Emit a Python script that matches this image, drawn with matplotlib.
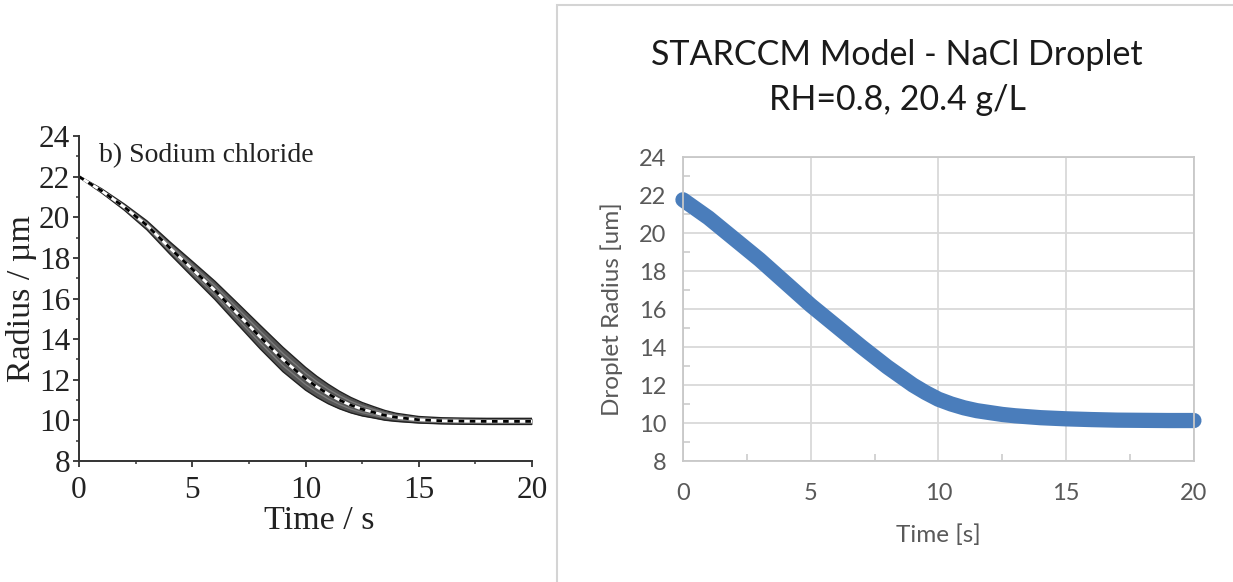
import numpy as np
import matplotlib.pyplot as plt
from matplotlib.patches import Rectangle
from matplotlib.ticker import MultipleLocator

# left panel: published model (band of runs + dashed mean)
t_left = [0, 1, 2, 3, 4, 5, 6, 7, 8, 9, 10, 10.5, 11, 11.5, 12, 12.5, 13, 13.5, 14,
          15, 16, 17, 18, 19, 20]
r_left = [22.0, 21.3, 20.5, 19.6, 18.5, 17.45, 16.4, 15.25, 14.1, 13.0, 12.05, 11.65,
          11.3, 11.0, 10.75, 10.55, 10.4, 10.25, 10.15, 10.03, 9.98, 9.96, 9.95, 9.95, 9.95]
band_half = [0.03, 0.1, 0.15, 0.22, 0.3, 0.38, 0.45, 0.52, 0.58, 0.6, 0.56, 0.52, 0.48,
             0.43, 0.38, 0.33, 0.28, 0.24, 0.2, 0.16, 0.15, 0.15, 0.15, 0.15, 0.15]

# right panel: STARCCM model
t_right = [0, 1, 2, 3, 4, 5, 6, 7, 8, 9, 9.5, 10, 10.5, 11, 11.5, 12, 12.5, 13, 14,
           15, 16, 17, 18, 19, 20]
r_right = [21.75, 20.8, 19.7, 18.6, 17.4, 16.2, 15.1, 14.0, 12.95, 12.0, 11.6, 11.25,
           11.0, 10.8, 10.65, 10.55, 10.45, 10.38, 10.28, 10.22, 10.18, 10.15, 10.14,
           10.13, 10.13]

fig = plt.figure(figsize=(12.33, 5.82), dpi=100)

# ---- left plot ----
ax1 = fig.add_axes([0.0641, 0.2079, 0.3674, 0.5584])
serif = "Liberation Serif"
t = np.array(t_left)
r = np.array(r_left)
h = np.array(band_half)
ax1.fill_between(t, r - h, r + h, color="#555555", lw=0)
for f, c in [(1.0, "#222222"), (-1.0, "#222222"), (0.5, "#7a7a7a"), (-0.5, "#7a7a7a")]:
    ax1.plot(t, r + f * h, color=c, lw=1.0)
ax1.plot(t, r, color="white", lw=2.0)
ax1.plot(t, r, color="black", lw=2.0, dashes=(2, 2))

ax1.set_xlim(0, 20)
ax1.set_ylim(8, 24)
ax1.xaxis.set_major_locator(MultipleLocator(5))
ax1.xaxis.set_minor_locator(MultipleLocator(2.5))
ax1.yaxis.set_major_locator(MultipleLocator(2))
ax1.yaxis.set_minor_locator(MultipleLocator(1))
for side in ["top", "right"]:
    ax1.spines[side].set_visible(False)
for side in ["left", "bottom"]:
    ax1.spines[side].set_linewidth(1.4)
    ax1.spines[side].set_color("#333333")
ax1.tick_params(which="major", direction="out", length=4.5, width=1.3, color="#333333",
                labelsize=22.5, labelcolor="#222222", pad=2)
ax1.tick_params(axis="x", which="major", pad=6)
ax1.tick_params(which="minor", direction="out", length=2.5, width=1.1, color="#333333")
for lab in ax1.get_xticklabels() + ax1.get_yticklabels():
    lab.set_family(serif)
ax1.set_xlabel("Time / s", fontsize=24.5, family=serif, color="#222222")
ax1.xaxis.set_label_coords(0.53, -0.185)
ax1.xaxis.label.set_va("center")
ax1.set_ylabel("Radius / µm", fontsize=24.5, family=serif, color="#222222")
ax1.yaxis.set_label_coords(-0.126, 0.5)
ax1.yaxis.label.set_va("center")
ax1.text(0.045, 0.94, "b) Sodium chloride", transform=ax1.transAxes, fontsize=20,
         family=serif, color="#222222", va="center", ha="left")

# ---- right plot (Excel style) ----
fig.patches.append(Rectangle((0.4517, -0.01), 0.56, 1.0014, transform=fig.transFigure,
                             fill=False, edgecolor="#d4d4d4", lw=1.5))
sans = "Lato"
ax2 = fig.add_axes([0.5539, 0.2079, 0.4144, 0.5223])
ax2.plot(t_right, r_right, color="#4a7dbb", lw=11, solid_capstyle="round",
         solid_joinstyle="round", clip_on=False)
ax2.set_xlim(0, 20)
ax2.set_ylim(8, 24)
ax2.xaxis.set_major_locator(MultipleLocator(5))
ax2.xaxis.set_minor_locator(MultipleLocator(2.5))
ax2.yaxis.set_major_locator(MultipleLocator(2))
ax2.yaxis.set_minor_locator(MultipleLocator(1))
ax2.grid(True, which="major", color="#d9d9d9", lw=1.3)
ax2.set_axisbelow(True)
for side in ax2.spines:
    ax2.spines[side].set_color("#c8c8c8")
    ax2.spines[side].set_linewidth(1.3)
ax2.tick_params(which="major", length=0, labelsize=17, labelcolor="#595959")
ax2.tick_params(axis="x", which="major", pad=16)
ax2.tick_params(axis="y", which="major", pad=12)
ax2.tick_params(which="minor", direction="in", length=5, width=1.1, color="#c8c8c8")
for lab in ax2.get_xticklabels() + ax2.get_yticklabels():
    lab.set_family(sans)
ax2.set_xlabel("Time [s]", fontsize=17.5, family=sans, color="#595959")
ax2.xaxis.set_label_coords(0.5, -0.243)
ax2.set_ylabel("Droplet Radius [um]", fontsize=17.5, family=sans, color="#595959")
ax2.yaxis.set_label_coords(-0.139, 0.5)
ax2.yaxis.label.set_va("center")
ax2.xaxis.label.set_va("center")

fig.text(0.7275, 0.9055, "STARCCM Model - NaCl Droplet", fontsize=24.5, family=sans,
         ha="center", va="center", color="#1a1a1a")
fig.text(0.7275, 0.828, "RH=0.8, 20.4 g/L", fontsize=24.5, family=sans,
         ha="center", va="center", color="#1a1a1a")

fig.savefig("out.png", dpi=100)
